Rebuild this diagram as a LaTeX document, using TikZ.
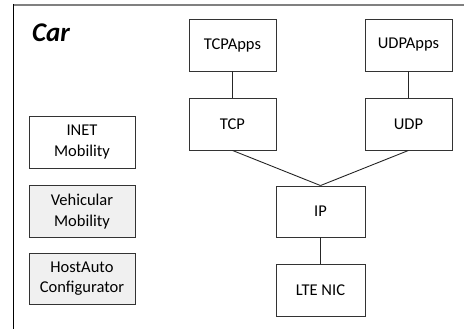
\documentclass[tikz,border=0pt]{standalone}
\usepackage{fontspec}
\setmainfont{Carlito}
\begin{document}
\begin{tikzpicture}[x=1pt,y=-1pt,
  box/.style={draw=black!80, line width=0.9pt, minimum width=87pt, minimum height=52pt, inner sep=0pt, align=center, font=\fontsize{16.5}{20.5}\selectfont},
  lbox/.style={box, minimum width=106pt},
  gbox/.style={lbox, fill=black!6},
  conn/.style={draw=black!85, line width=0.9pt}]
\useasboundingbox (0,0) rectangle (466,329);
\draw[black!50, line width=2pt] (13,5) -- (464,5);
\draw[black, line width=1pt] (13,4) -- (13,329);
\node[anchor=base west, inner sep=0pt, font=\fontsize{27}{32}\selectfont\bfseries\itshape] (car) at (32,41.5) {Car};
\node[box] (tcpapps) at (232.5,45) {TCPApps};
\node[box] (tcp) at (232.5,124) {TCP};
\node[box] (udpapps) at (408.5,45) {UDPApps};
\node[box] (udp) at (408.5,124) {UDP};
\node[box, minimum width=89pt, minimum height=51pt] (ip) at (320.5,211.5) {IP};
\node[box, minimum width=89pt] (lte) at (320.5,290) {LTE NIC};
\node[lbox] (inet) at (82,142) {INET\\Mobility};
\node[gbox] (veh) at (82,211.5) {Vehicular\\Mobility};
\node[gbox, minimum height=51pt] (hac) at (82,278.5) {HostAuto\\Configurator};
\draw[conn] (tcpapps) -- (tcp);
\draw[conn] (udpapps) -- (udp);
\draw[conn] (tcp.south) -- (ip.north);
\draw[conn] (udp.south) -- (ip.north);
\draw[conn] (ip) -- (lte);
\end{tikzpicture}
\end{document}
